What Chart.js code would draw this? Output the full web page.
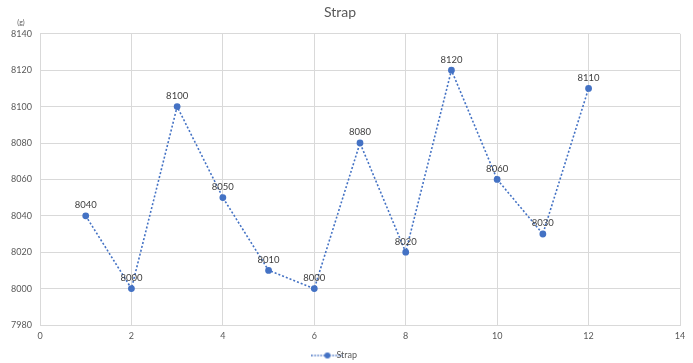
<!DOCTYPE html>
<html>
<head>
<meta charset="utf-8">
<script src="https://cdn.jsdelivr.net/npm/chart.js@4/dist/chart.umd.min.js"></script>
<style>
  html, body { margin: 0; padding: 0; background: #fff; }
  #wrap { width: 693px; height: 363px; position: relative; }
</style>
</head>
<body>
<div id="wrap"><canvas id="c"></canvas></div>
<script>
// Weighings per sample number
const sampleNo = [1, 2, 3, 4, 5, 6, 7, 8, 9, 10, 11, 12];
const strapWeight = [8040, 8000, 8100, 8050, 8010, 8000, 8080, 8020, 8120, 8060, 8030, 8110];
const seriesName = 'Strap';
const unitLabel = '(g)';

const blue = '#4472C4';
const textGrey = '#595959';
const gridGrey = '#d9d9d9';
const fontFamily = 'Lato, "Open Sans", "Liberation Sans", sans-serif';

// Legend swatch: dotted line with a dot in the middle
function legendSwatch() {
  const cv = document.createElement('canvas');
  cv.width = 32; cv.height = 8;
  const g = cv.getContext('2d');
  g.strokeStyle = blue; g.lineWidth = 1.5;
  g.setLineDash([1.5, 1.5]);
  g.beginPath(); g.moveTo(0, 4); g.lineTo(32, 4); g.stroke();
  g.setLineDash([]);
  g.fillStyle = blue;
  g.beginPath(); g.arc(16, 4, 3, 0, Math.PI * 2); g.fill();
  return cv;
}

// Value labels above each point
const valueLabels = {
  id: 'valueLabels',
  afterDatasetsDraw(chart) {
    const ctx = chart.ctx;
    ctx.save();
    ctx.font = '9.5px ' + fontFamily;
    ctx.fillStyle = '#404040';
    ctx.textAlign = 'center';
    ctx.textBaseline = 'bottom';
    chart.getDatasetMeta(0).data.forEach((pt, i) => {
      ctx.fillText(String(chart.data.datasets[0].data[i].y), pt.x, pt.y - 6);
    });
    ctx.restore();
  }
};

// Unit caption over the value axis
const unitCaption = {
  id: 'unitCaption',
  afterDraw(chart) {
    const y = chart.scales.y;
    const ctx = chart.ctx;
    ctx.save();
    ctx.font = '7px ' + fontFamily;
    ctx.fillStyle = textGrey;
    ctx.textAlign = 'center';
    ctx.textBaseline = 'middle';
    ctx.fillText(unitLabel, 21, y.top - 11);
    ctx.restore();
  }
};

new Chart(document.getElementById('c'), {
  type: 'line',
  data: {
    datasets: [{
      label: seriesName,
      data: sampleNo.map((x, i) => ({ x: x, y: strapWeight[i] })),
      borderColor: blue,
      backgroundColor: blue,
      borderWidth: 1.6,
      borderDash: [2, 2],
      pointRadius: 2.6,
      pointBackgroundColor: blue,
      pointBorderColor: blue,
      pointStyle: 'circle',
      tension: 0,
      fill: false
    }]
  },
  options: {
    responsive: true,
    maintainAspectRatio: false,
    animation: false,
    layout: { padding: { left: 0, right: 13, top: 0, bottom: -7 } },
    plugins: {
      title: {
        display: true,
        text: seriesName,
        color: textGrey,
        font: { family: fontFamily, size: 14, weight: 'normal' },
        padding: { top: 4, bottom: 13 }
      },
      legend: {
        position: 'bottom',
        labels: {
          usePointStyle: true,
          pointStyle: legendSwatch(),
          color: textGrey,
          font: { family: fontFamily, size: 9 },
          padding: 3
        }
      },
      tooltip: { enabled: false }
    },
    scales: {
      x: {
        type: 'linear',
        min: 0, max: 14,
        ticks: { stepSize: 2, color: textGrey, font: { family: fontFamily, size: 9 }, padding: 6 },
        grid: { color: gridGrey, drawTicks: false },
        border: { color: gridGrey },
        afterFit(scale) { scale.height = 23; }
      },
      y: {
        min: 7980, max: 8140,
        ticks: {
          stepSize: 20, color: textGrey, font: { family: fontFamily, size: 9 }, padding: 8,
          callback: (v) => String(v)
        },
        grid: { color: gridGrey, drawTicks: false },
        border: { display: false },
        afterFit(scale) { scale.width = 40; }
      }
    }
  },
  plugins: [valueLabels, unitCaption]
});
</script>
</body>
</html>
